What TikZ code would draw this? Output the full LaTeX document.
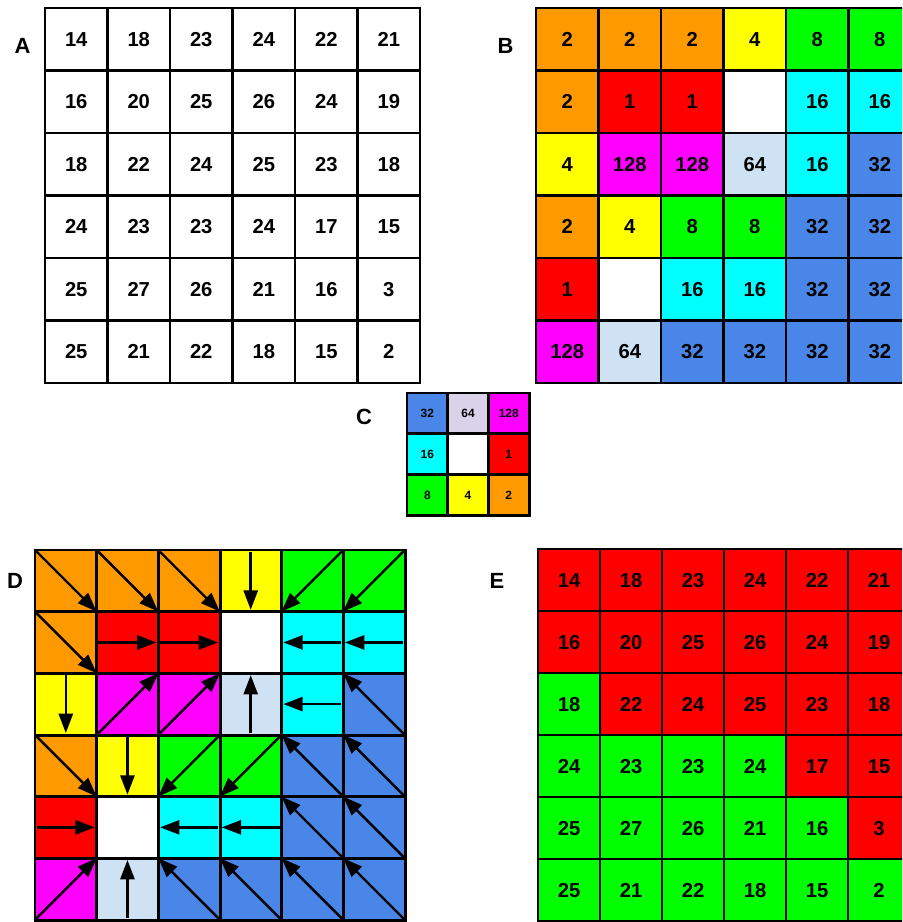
\documentclass[tikz,border=0pt]{standalone}
\usepackage{fontspec}
\setmainfont{Liberation Sans}
\usetikzlibrary{arrows.meta}

\definecolor{dir0}{HTML}{FFFFFF}
\definecolor{dir1}{HTML}{FF0000}
\definecolor{dir2}{HTML}{FF9900}
\definecolor{dir4}{HTML}{FFFF00}
\definecolor{dir8}{HTML}{00FF00}
\definecolor{dir16}{HTML}{00FFFF}
\definecolor{dir32}{HTML}{4A86E8}
\definecolor{dir64}{HTML}{CFE2F3}
\definecolor{dir128}{HTML}{FF00FF}
\definecolor{lav64}{HTML}{D9D2E9}
\definecolor{basin_r}{HTML}{FF0000}
\definecolor{basin_g}{HTML}{00FF00}

\tikzset{
  gridline/.style={line width=1.6pt, line cap=rect},
  cellnum/.style={font=\fontsize{11.5}{13}\selectfont\bfseries, inner sep=0pt,
    text height=8.2pt, text depth=0pt},
  smallnum/.style={font=\fontsize{6.8}{8}\selectfont\bfseries, inner sep=0pt,
    text height=4.9pt, text depth=0pt},
  panel/.style={font=\fontsize{12.5}{14}\selectfont\bfseries, inner sep=0pt},
  flow/.style={line width=1.4pt, -{Triangle[length=11pt,width=8pt]}},
}

% elevations and D8 codes
\newcommand\elevdata{{14,18,23,24,22,21},{16,20,25,26,24,19},{18,22,24,25,23,18},{24,23,23,24,17,15},{25,27,26,21,16,3},{25,21,22,18,15,2}}
\newcommand\flowdata{{2,2,2,4,8,8},{2,1,1,0,16,16},{4,128,128,64,16,32},{2,4,8,8,32,32},{1,0,16,16,32,32},{128,64,32,32,32,32}}

\newcommand\gridlines[1]{%
  \foreach \i in {0,...,#1} {
    \draw[gridline] (\i,0) -- (\i,#1);
    \draw[gridline] (0,\i) -- (#1,\i);
  }}

\newcommand\flowarrow[3]{% code, column, row
  \def\fx{-1}%
  \ifnum#1=1 \def\fx{0.03}\def\fy{0.5}\def\tx{0.97}\def\ty{0.5}\fi
  \ifnum#1=2 \def\fx{0}\def\fy{0}\def\tx{1}\def\ty{1}\fi
  \ifnum#1=4 \def\fx{0.5}\def\fy{0.03}\def\tx{0.5}\def\ty{0.97}\fi
  \ifnum#1=8 \def\fx{1}\def\fy{0}\def\tx{0}\def\ty{1}\fi
  \ifnum#1=16 \def\fx{0.97}\def\fy{0.5}\def\tx{0.03}\def\ty{0.5}\fi
  \ifnum#1=32 \def\fx{1}\def\fy{1}\def\tx{0}\def\ty{0}\fi
  \ifnum#1=64 \def\fx{0.5}\def\fy{0.97}\def\tx{0.5}\def\ty{0.03}\fi
  \ifnum#1=128 \def\fx{0}\def\fy{1}\def\tx{1}\def\ty{0}\fi
  \ifnum#1>0
    \coordinate (d-#3-#2-s) at (#2+\fx,#3+\fy);
    \coordinate (d-#3-#2-t) at (#2+\tx,#3+\ty);
    \draw[flow] (d-#3-#2-s) -- (d-#3-#2-t);
  \fi}

\begin{document}
\begin{tikzpicture}[x=0.02cm, y=-0.02cm]
  \clip (0,0) rectangle (902,922);
  \fill[white] (0,0) rectangle (902,922);

  \node[panel] (labA) at (22.5,46) {A};
  \node[panel] (labB) at (505.5,46) {B};
  \node[panel] (labC) at (364,417) {C};
  \node[panel] (labD) at (15,581) {D};
  \node[panel] (labE) at (497,581) {E};

  %%%%%%%%%%%%%%%%%%%% A
  \begin{scope}[shift={(45,8)}, scale=62.5]
    \foreach \row [count=\r from 0] in \elevdata {
      \foreach \v [count=\c from 0] in \row {
        \node[cellnum] (a-\r-\c) at (\c+0.5,\r+0.5) {\v};
      }
    }
    \gridlines{6}
  \end{scope}

  %%%%%%%%%%%%%%%%%%%% B
  \begin{scope}[shift={(536,8)}, scale=62.5]
    \foreach \row [count=\r from 0] in \flowdata {
      \foreach \v [count=\c from 0] in \row {
        \fill[dir\v] (\c,\r) rectangle +(1,1);
        \ifnum\v>0
          \node[cellnum] (b-\r-\c) at (\c+0.5,\r+0.5) {\v};
        \fi
      }
    }
    \gridlines{6}
  \end{scope}

  %%%%%%%%%%%%%%%%%%%% C
  \begin{scope}[shift={(407,393)}, scale=40.7]
    \foreach \row [count=\r from 0] in {{32/dir32,64/lav64,128/dir128},{16/dir16,0/dir0,1/dir1},{8/dir8,4/dir4,2/dir2}} {
      \foreach \v/\k [count=\c from 0] in \row {
        \fill[\k] (\c,\r) rectangle +(1,1);
        \ifnum\v>0
          \node[smallnum] (c-\r-\c) at (\c+0.5,\r+0.5) {\v};
        \fi
      }
    }
    \gridlines{3}
  \end{scope}

  %%%%%%%%%%%%%%%%%%%% D
  \begin{scope}[shift={(35,550)}, scale=61.7]
    \foreach \row [count=\r from 0] in \flowdata {
      \foreach \v [count=\c from 0] in \row {
        \fill[dir\v] (\c,\r) rectangle +(1,1);
      }
    }
    \gridlines{6}
    \foreach \row [count=\r from 0] in \flowdata {
      \foreach \v [count=\c from 0] in \row {
        \flowarrow{\v}{\c}{\r}
      }
    }
  \end{scope}

  %%%%%%%%%%%%%%%%%%%% E
  \begin{scope}[shift={(538,549)}, scale=62]
    \foreach \row [count=\r from 0] in {
      {14/r,18/r,23/r,24/r,22/r,21/r},
      {16/r,20/r,25/r,26/r,24/r,19/r},
      {18/g,22/r,24/r,25/r,23/r,18/r},
      {24/g,23/g,23/g,24/g,17/r,15/r},
      {25/g,27/g,26/g,21/g,16/g,3/r},
      {25/g,21/g,22/g,18/g,15/g,2/g}} {
      \foreach \v/\k [count=\c from 0] in \row {
        \fill[basin_\k] (\c,\r) rectangle +(1,1);
        \node[cellnum] (e-\r-\c) at (\c+0.5,\r+0.5) {\v};
      }
    }
    \gridlines{6}
  \end{scope}
\end{tikzpicture}
\end{document}
